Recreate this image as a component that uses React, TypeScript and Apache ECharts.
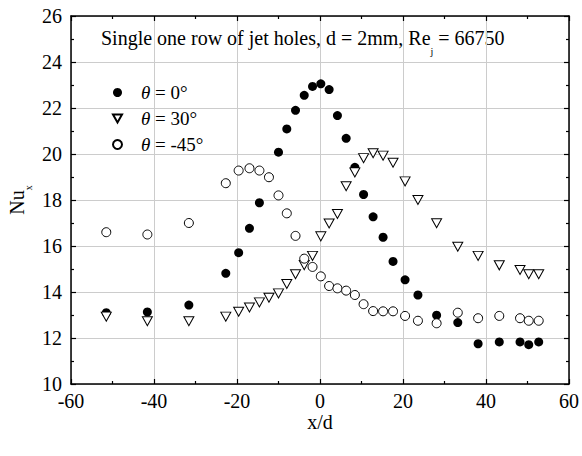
import React, { useEffect, useRef } from "react";
import * as echarts from "echarts";

const xPositions = [-51.5, -41.6, -31.6, -22.7, -19.6, -17.0, -14.6, -12.3, -10.0, -8.0, -5.9, -3.8, -1.8, 0.2, 2.2, 4.2, 6.3, 8.4, 10.5, 12.8, 15.2, 17.6, 20.5, 23.6, 28.1, 33.2, 38.1, 43.2, 48.2, 50.3, 52.7];

const nuTheta0 = [13.1, 13.13, 13.43, 14.81, 15.71, 16.77, 17.88, null, 20.08, 21.09, 21.9, 22.55, 22.94, 23.05, 22.8, 21.67, 20.68, 19.42, 18.24, 17.27, 16.38, 15.33, 14.53, 13.87, 12.99, 12.67, 11.75, 11.83, 11.83, 11.71, 11.83];

const nuTheta30 = [12.93, 12.73, 12.73, 12.93, 13.14, 13.33, 13.55, 13.75, 13.94, 14.35, 14.77, 15.17, 15.57, 16.42, 16.98, 17.39, 18.6, 19.2, 19.82, 20.03, 19.93, 19.62, 18.81, 18.0, 16.99, 15.97, 15.57, 15.16, 14.96, 14.77, 14.77];

const nuThetaM45 = [16.6, 16.5, 17.0, 18.73, 19.28, 19.38, 19.28, 18.99, 18.2, 17.42, 16.44, 15.45, 15.09, 14.68, 14.26, 14.16, 14.06, 13.87, 13.47, 13.17, 13.16, 13.16, 12.96, 12.75, 12.64, 13.1, 12.86, 12.96, 12.86, 12.75, 12.75];

const seriesNames = ["θ = 0°", "θ = 30°", "θ = -45°"];
const titleMain = "Single one row of jet holes, d = 2mm, Re";
const titleSub = "j";
const titleTail = " = 66750";
const yName = "Nu";
const yNameSub = "x";
const xName = "x/d";

const FONT = "Liberation Serif";
const FS = 20;

function pairs(ys: (number | null)[]) {
  const out: [number, number][] = [];
  xPositions.forEach((x, i) => {
    const y = ys[i];
    if (y !== null && y !== undefined) out.push([x, y]);
  });
  return out;
}

export default function App() {
  const ref = useRef<HTMLDivElement>(null);
  useEffect(() => {
    if (!ref.current) return;
    const chart = echarts.init(ref.current, null, { renderer: "svg" });
    const axisCommon = {
      type: "value" as const,
      axisLine: { show: true, onZero: false, lineStyle: { color: "#000", width: 1.5 } },
      axisTick: { show: true, inside: true, length: 5, lineStyle: { color: "#000", width: 1.2 } },
      minorTick: { show: true, splitNumber: 2, length: 3, lineStyle: { color: "#000", width: 1.2 } },
    };
    const triangle = "path://M0,0L10,0L5,8.66Z";
    chart.setOption({
      animation: false,
      backgroundColor: "#fff",
      textStyle: { fontFamily: FONT },
      grid: { left: 71, right: 12, top: 16, bottom: 72 },
      xAxis: [
        {
          ...axisCommon,
          min: -60,
          max: 60,
          interval: 20,
          position: "bottom",
          axisLabel: { fontFamily: FONT, fontSize: FS, color: "#000", margin: 7 },
          splitLine: { show: true, lineStyle: { color: "#cccccc", width: 1 } },
        },
        {
          ...axisCommon,
          min: -60,
          max: 60,
          interval: 20,
          position: "top",
          axisLabel: { show: false },
          splitLine: { show: false },
        },
      ],
      yAxis: [
        {
          ...axisCommon,
          min: 10,
          max: 26,
          interval: 2,
          position: "left",
          axisLabel: { fontFamily: FONT, fontSize: FS, color: "#000", margin: 9 },
          splitLine: { show: true, lineStyle: { color: "#cccccc", width: 1 } },
        },
        {
          ...axisCommon,
          min: 10,
          max: 26,
          interval: 2,
          position: "right",
          axisLabel: { show: false },
          splitLine: { show: false },
        },
      ],
      legend: {
        orient: "vertical",
        left: 107,
        top: 78,
        itemWidth: 9,
        itemHeight: 9,
        itemGap: 7,
        data: seriesNames,
        formatter: (name: string) => `{g|}{it|θ}{t|${name.replace("θ", "")}}`,
        textStyle: {
          rich: {
            g: { width: 14, fontSize: 19, fontFamily: FONT },
            it: { fontFamily: FONT, fontSize: 19, fontStyle: "italic", color: "#000", lineHeight: 22 },
            t: { fontFamily: FONT, fontSize: 19, color: "#000", lineHeight: 22 },
          },
        },
      },
      graphic: [
        {
          type: "text",
          left: 101,
          top: 28,
          style: {
            text: `{a|${titleMain}}{s|${titleSub}}{a|${titleTail}}`,
            rich: {
              a: { fontFamily: FONT, fontSize: FS, fill: "#000", lineHeight: 22, verticalAlign: "top" },
              s: { fontFamily: FONT, fontSize: 10, fill: "#000", lineHeight: 28, verticalAlign: "bottom" },
            },
          },
        },
        {
          type: "text",
          x: 7,
          y: 200,
          rotation: Math.PI / 2,
          style: {
            text: `{n|${yName}}{s|${yNameSub}}`,
            align: "center",
            verticalAlign: "top",
            rich: {
              n: { fontFamily: FONT, fontSize: FS, fill: "#000", lineHeight: 22, verticalAlign: "top" },
              s: { fontFamily: FONT, fontSize: 10, fill: "#000", lineHeight: 26, verticalAlign: "bottom" },
            },
          },
        },
        {
          type: "text",
          x: 320,
          y: 412,
          style: {
            text: xName,
            align: "center",
            verticalAlign: "top",
            fontFamily: FONT,
            fontSize: FS,
            fill: "#000",
          },
        },
      ],
      series: [
        {
          name: seriesNames[0],
          type: "scatter",
          symbol: "circle",
          symbolSize: 9,
          itemStyle: { color: "#000", opacity: 1 },
          data: pairs(nuTheta0),
          z: 2,
        },
        {
          name: seriesNames[1],
          type: "scatter",
          symbol: triangle,
          symbolSize: [10, 9],
          itemStyle: { color: "#fff", borderColor: "#000", borderWidth: 1, opacity: 1 },
          data: pairs(nuTheta30),
          z: 3,
        },
        {
          name: seriesNames[2],
          type: "scatter",
          symbol: "circle",
          symbolSize: 9,
          itemStyle: { color: "#fff", borderColor: "#000", borderWidth: 1, opacity: 1 },
          data: pairs(nuThetaM45),
          z: 4,
        },
      ],
    });
    return () => chart.dispose();
  }, []);
  return <div ref={ref} style={{ width: 582, height: 456, position: "absolute", left: 0, top: 0 }} />;
}
